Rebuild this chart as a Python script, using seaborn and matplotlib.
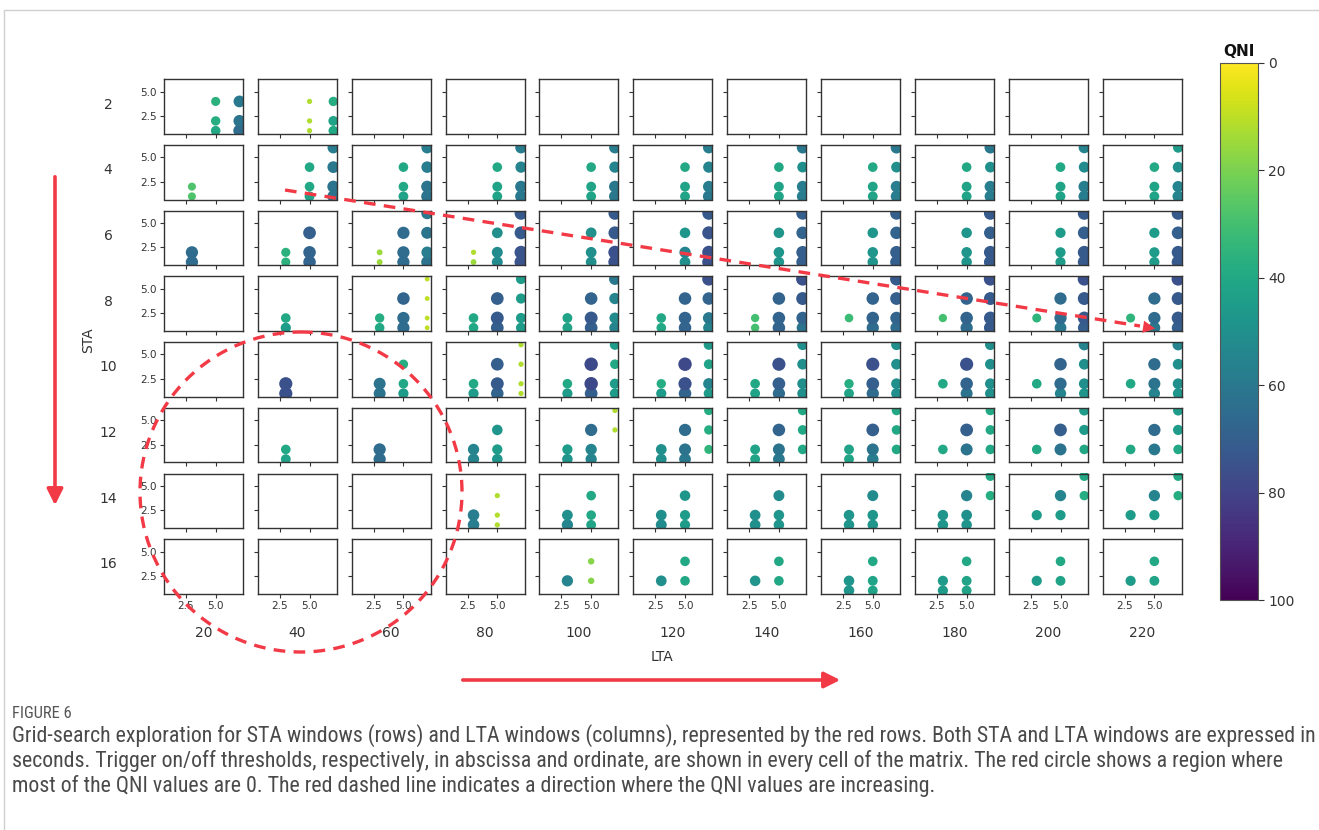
import matplotlib
matplotlib.use("Agg")
import matplotlib.pyplot as plt
import seaborn as sns
import pandas as pd
from matplotlib import patches, font_manager
from matplotlib.colors import Normalize
from matplotlib.cm import ScalarMappable

# ---------------------------------------------------------------- data
sta_windows = [2, 4, 6, 8, 10, 12, 14, 16]                 # rows (s)
lta_windows = [20, 40, 60, 80, 100, 120, 140, 160, 180, 200, 220]  # columns (s)

# trigger on / trigger off threshold pairs evaluated in every cell
trigger_on = [3, 3, 5, 5, 5, 7, 7, 7, 7]
trigger_off = [1, 2, 1, 2, 4, 1, 2, 4, 6]

# QNI per cell: one list per LTA window, one value per threshold pair
qni_sta2 = [
    [0, 0, 40, 38, 36, 65, 62, 60, 0],
    [0, 0, 12, 12, 12, 40, 42, 38, 0],
    [0, 0, 0, 0, 0, 0, 0, 0, 0],
    [0, 0, 0, 0, 0, 0, 0, 0, 0],
    [0, 0, 0, 0, 0, 0, 0, 0, 0],
    [0, 0, 0, 0, 0, 0, 0, 0, 0],
    [0, 0, 0, 0, 0, 0, 0, 0, 0],
    [0, 0, 0, 0, 0, 0, 0, 0, 0],
    [0, 0, 0, 0, 0, 0, 0, 0, 0],
    [0, 0, 0, 0, 0, 0, 0, 0, 0],
    [0, 0, 0, 0, 0, 0, 0, 0, 0],
]
qni_sta4 = [
    [28, 28, 0, 0, 0, 0, 0, 0, 0],
    [0, 0, 42, 40, 40, 62, 62, 60, 58],
    [0, 0, 42, 40, 40, 62, 62, 58, 58],
    [0, 0, 42, 42, 40, 60, 60, 55, 58],
    [0, 0, 42, 42, 40, 60, 60, 55, 58],
    [0, 0, 42, 42, 40, 60, 58, 55, 58],
    [0, 0, 42, 42, 40, 58, 58, 50, 60],
    [0, 0, 42, 42, 40, 58, 58, 50, 60],
    [0, 0, 42, 42, 40, 58, 58, 50, 60],
    [0, 0, 42, 42, 40, 58, 58, 52, 55],
    [0, 0, 42, 42, 40, 55, 55, 50, 45],
]
qni_sta6 = [
    [65, 65, 0, 0, 0, 0, 0, 0, 0],
    [36, 36, 68, 68, 70, 0, 0, 0, 0],
    [15, 15, 65, 65, 65, 62, 58, 62, 60],
    [15, 12, 52, 52, 50, 74, 74, 72, 72],
    [0, 0, 50, 50, 50, 75, 75, 72, 72],
    [0, 0, 50, 55, 48, 75, 75, 74, 72],
    [0, 0, 48, 48, 48, 70, 70, 68, 70],
    [0, 0, 48, 48, 48, 70, 70, 68, 70],
    [0, 0, 48, 48, 48, 72, 72, 70, 72],
    [0, 0, 45, 45, 45, 72, 72, 70, 72],
    [0, 0, 45, 45, 45, 72, 72, 70, 72],
]
qni_sta8 = [
    [0, 0, 0, 0, 0, 0, 0, 0, 0],
    [45, 40, 0, 0, 0, 0, 0, 0, 0],
    [40, 38, 65, 65, 68, 10, 10, 10, 10],
    [40, 40, 70, 72, 70, 45, 45, 45, 45],
    [42, 42, 70, 72, 68, 55, 52, 55, 60],
    [40, 40, 68, 68, 68, 55, 60, 68, 75],
    [30, 30, 68, 68, 68, 62, 68, 72, 75],
    [0, 32, 65, 68, 68, 65, 68, 70, 72],
    [0, 30, 65, 68, 68, 72, 72, 72, 75],
    [0, 35, 60, 65, 65, 70, 72, 72, 75],
    [0, 35, 60, 65, 65, 70, 72, 72, 75],
]
qni_sta10 = [
    [0, 0, 0, 0, 0, 0, 0, 0, 0],
    [75, 75, 0, 0, 0, 0, 0, 0, 0],
    [62, 62, 45, 40, 38, 0, 0, 0, 0],
    [45, 40, 68, 72, 70, 12, 12, 12, 12],
    [45, 40, 70, 78, 78, 45, 45, 40, 45],
    [45, 38, 68, 75, 78, 45, 55, 42, 45],
    [42, 40, 65, 70, 75, 50, 50, 50, 50],
    [42, 38, 65, 70, 75, 50, 50, 50, 50],
    [0, 40, 62, 68, 75, 50, 50, 50, 50],
    [0, 40, 55, 65, 68, 48, 50, 50, 55],
    [0, 40, 55, 62, 65, 48, 50, 50, 55],
]
qni_sta12 = [
    [0, 0, 0, 0, 0, 0, 0, 0, 0],
    [42, 40, 0, 0, 0, 0, 0, 0, 0],
    [65, 65, 0, 0, 0, 0, 0, 0, 0],
    [55, 55, 48, 45, 48, 0, 0, 0, 0],
    [48, 45, 55, 55, 65, 0, 0, 12, 12],
    [50, 50, 60, 62, 65, 0, 35, 38, 38],
    [42, 42, 60, 62, 68, 0, 40, 40, 40],
    [42, 42, 58, 62, 70, 0, 40, 40, 40],
    [0, 40, 0, 62, 70, 0, 40, 40, 40],
    [0, 40, 0, 62, 70, 0, 40, 45, 45],
    [0, 40, 0, 60, 65, 0, 40, 45, 45],
]
qni_sta14 = [
    [0, 0, 0, 0, 0, 0, 0, 0, 0],
    [0, 0, 0, 0, 0, 0, 0, 0, 0],
    [0, 0, 0, 0, 0, 0, 0, 0, 0],
    [58, 58, 12, 12, 12, 0, 0, 0, 0],
    [55, 50, 42, 40, 40, 0, 0, 0, 0],
    [52, 50, 45, 45, 48, 0, 0, 0, 0],
    [50, 50, 48, 48, 52, 0, 0, 0, 0],
    [48, 48, 48, 48, 52, 0, 0, 0, 0],
    [48, 48, 48, 50, 55, 0, 0, 38, 40],
    [0, 45, 0, 45, 55, 0, 0, 38, 40],
    [0, 45, 0, 45, 55, 0, 0, 38, 40],
]
qni_sta16 = [
    [0, 0, 0, 0, 0, 0, 0, 0, 0],
    [0, 0, 0, 0, 0, 0, 0, 0, 0],
    [0, 0, 0, 0, 0, 0, 0, 0, 0],
    [0, 0, 0, 0, 0, 0, 0, 0, 0],
    [0, 55, 0, 18, 18, 0, 0, 0, 0],
    [0, 50, 0, 40, 40, 0, 0, 0, 0],
    [0, 48, 0, 40, 40, 0, 0, 0, 0],
    [48, 48, 42, 42, 40, 0, 0, 0, 0],
    [45, 45, 42, 42, 40, 0, 0, 0, 0],
    [0, 45, 0, 42, 40, 0, 0, 0, 0],
    [0, 45, 0, 42, 40, 0, 0, 0, 0],
]
qni_rows = [qni_sta2, qni_sta4, qni_sta6, qni_sta8,
            qni_sta10, qni_sta12, qni_sta14, qni_sta16]

qni_ticks = [0, 20, 40, 60, 80, 100]

caption_title = "FIGURE 6"
caption_lines = [
    "Grid-search exploration for STA windows (rows) and LTA windows (columns), represented by the red rows. "
    "Both STA and LTA windows are expressed in",
    "seconds. Trigger on/off thresholds, respectively, in abscissa and ordinate, are shown in every cell "
    "of the matrix. The red circle shows a region where",
    "most of the QNI values are 0. The red dashed line indicates a direction where the QNI values are increasing.",
]

records = []
for sta, row in zip(sta_windows, qni_rows):
    for lta, cell in zip(lta_windows, row):
        for on, off, q in zip(trigger_on, trigger_off, cell):
            records.append({"STA": sta, "LTA": lta, "on": on, "off": off, "QNI": q})
df = pd.DataFrame(records)

# ---------------------------------------------------------------- figure
sns.set_theme(style="ticks")
plt.rcParams["font.family"] = ["DejaVu Sans"]

W, H = 1319, 830
fig = plt.figure(figsize=(W / 100, H / 100), dpi=100)
fig.patch.set_facecolor("white")


def px_rect(x0, y0, w, h):
    return [x0 / W, 1 - (y0 + h) / H, w / W, h / H]


RED = "#f23a46"
INK = "#333333"
col_left, col_step, cell_w = 164.0, 93.87, 79.0
row_top, row_step, cell_h = 79.3, 65.7, 54.5

for i, sta in enumerate(sta_windows):
    for j, lta in enumerate(lta_windows):
        ax = fig.add_axes(px_rect(col_left + col_step * j, row_top + row_step * i, cell_w, cell_h))
        sub = df[(df["STA"] == sta) & (df["LTA"] == lta)]
        sns.scatterplot(
            data=sub, x="on", y="off", hue="QNI", size="QNI",
            palette="viridis_r", hue_norm=(0, 100),
            sizes=(0, 120), size_norm=(0, 100),
            linewidth=0, legend=False, ax=ax,
        )
        ax.set_xlim(0.65, 7.3)
        ax.set_ylim(0.68, 6.27)
        ax.set_xticks([2.5, 5.0])
        ax.set_yticks([2.5, 5.0])
        ax.set_xlabel("")
        ax.set_ylabel("")
        ax.tick_params(labelsize=7.5, length=3, width=0.8, colors=INK, pad=2,
                       labelbottom=(i == len(sta_windows) - 1), labelleft=(j == 0))
        for s in ax.spines.values():
            s.set_color(INK)
            s.set_linewidth(1.0)
        if i == len(sta_windows) - 1:
            fig.text((col_left + col_step * j + cell_w / 2) / W, 1 - 633 / H, str(lta),
                     ha="center", va="center", fontsize=10, color=INK)
    fig.text(108 / W, 1 - (row_top + row_step * i + cell_h / 2 - 2) / H, str(sta),
             ha="center", va="center", fontsize=10, color=INK)

fig.text(662 / W, 1 - 657 / H, "LTA", ha="center", va="center", fontsize=10, color=INK)
fig.text(88 / W, 1 - 340 / H, "STA", ha="center", va="center", fontsize=10,
         color=INK, rotation=90)

# colour bar
cax = fig.add_axes(px_rect(1220, 63, 38, 537))
cb = fig.colorbar(ScalarMappable(norm=Normalize(0, 100), cmap="viridis_r"), cax=cax)
cax.invert_yaxis()
cb.set_ticks(qni_ticks)
cax.tick_params(labelsize=10, length=4, width=0.8, colors=INK)
cb.outline.set_edgecolor("#555555")
cb.outline.set_linewidth(0.8)
cax.set_title("QNI", fontweight="bold", fontsize=11, pad=5, color="#111111")

# ---------------------------------------------------------------- overlay: guides and caption
ov = fig.add_axes([0, 0, 1, 1], zorder=10)
ov.set_xlim(0, W)
ov.set_ylim(H, 0)
ov.axis("off")
ov.patch.set_alpha(0)

ov.plot([4, W], [10, 10], color="#cfcfcf", lw=1)
ov.plot([4, 4], [10, H], color="#cfcfcf", lw=1)

ov.annotate("", xy=(55, 508), xytext=(55, 174),
            arrowprops=dict(arrowstyle="-|>", color=RED, lw=2.6, mutation_scale=24))
ov.annotate("", xy=(843, 680), xytext=(460, 680),
            arrowprops=dict(arrowstyle="-|>", color=RED, lw=2.6, mutation_scale=24))

ov.add_patch(patches.Ellipse((301, 492), 322, 320, fill=False, edgecolor=RED,
                             lw=2.4, linestyle=(0, (3.5, 2.5))))

ov.plot([285, 1140], [190, 326], color=RED, lw=2.4, linestyle=(0, (3.5, 2.5)))
ov.annotate("", xy=(1158, 329), xytext=(1138, 326),
            arrowprops=dict(arrowstyle="-|>", color=RED, lw=0, mutation_scale=22))

names = {f.name for f in font_manager.fontManager.ttflist}
cap_family = next((n for n in ["Liberation Sans Narrow", "Roboto Condensed",
                               "Open Sans Condensed", "DejaVu Sans"] if n in names), "DejaVu Sans")

title_txt = ov.text(12, 713, caption_title, ha="left", va="center", fontsize=9,
                    color="#555555", family=cap_family, fontstretch="condensed")
cap_txts = [ov.text(12, y, line, ha="left", va="center", fontsize=12,
                    color="#4a4a4a", family=cap_family, fontstretch="condensed")
            for y, line in zip([736, 761, 786], caption_lines)]

fig.canvas.draw()
rend = fig.canvas.get_renderer()
scale = 1304 / cap_txts[0].get_window_extent(rend).width
for t in cap_txts:
    t.set_fontsize(t.get_fontsize() * scale)
tscale = 60 / title_txt.get_window_extent(rend).width
title_txt.set_fontsize(title_txt.get_fontsize() * tscale)

fig.savefig("out.png", dpi=100, facecolor="white")
